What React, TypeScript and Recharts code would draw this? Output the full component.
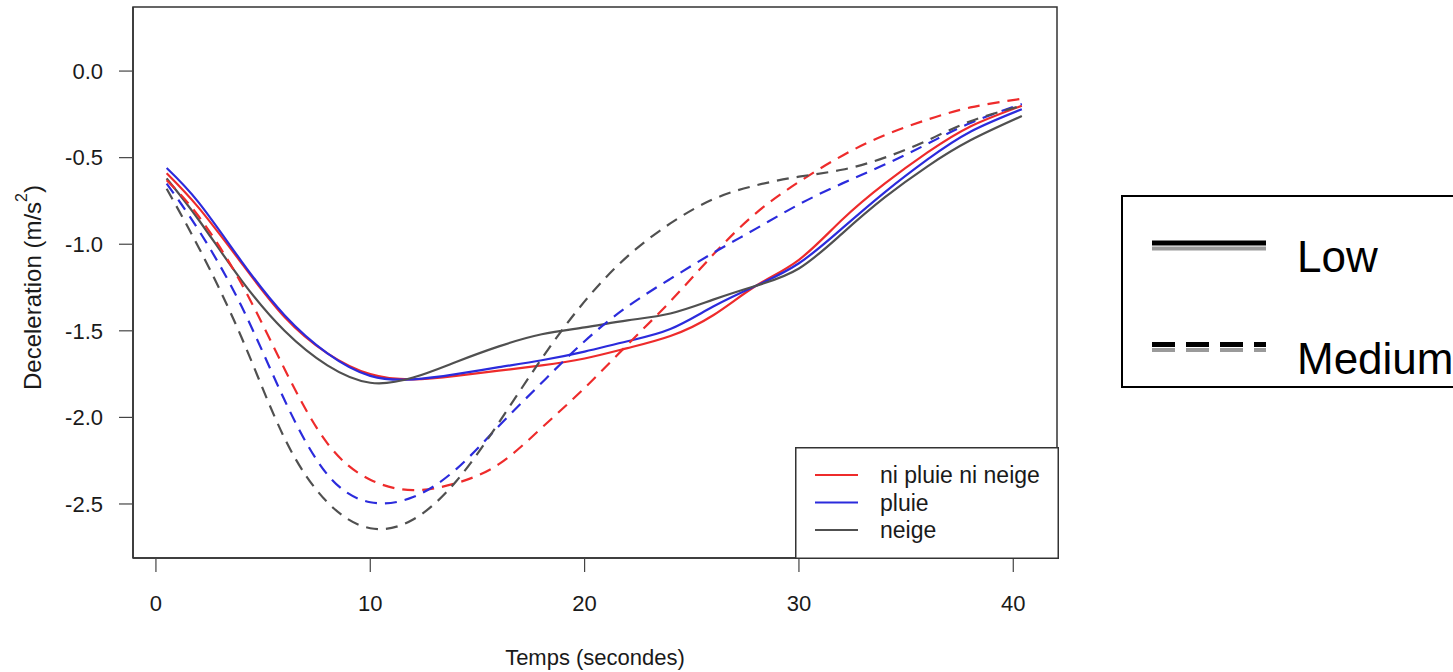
import React from 'react';
import { LineChart, Line, XAxis, YAxis, Legend, ReferenceArea } from 'recharts';

// time (s) and mean deceleration (m/s²) per weather / traffic level
const temps = [0.5, 2, 4, 6, 8, 10, 12, 14, 16, 18, 20, 22, 24, 26, 28, 30, 32, 34, 36, 38, 40.4];
const niLow = [-0.59, -0.79, -1.11, -1.42, -1.63, -1.75, -1.78, -1.76, -1.73, -1.70, -1.66, -1.60, -1.53, -1.41, -1.24, -1.09, -0.86, -0.65, -0.47, -0.32, -0.20];
const pluieLow = [-0.56, -0.76, -1.10, -1.41, -1.63, -1.76, -1.78, -1.75, -1.71, -1.67, -1.62, -1.56, -1.49, -1.36, -1.24, -1.11, -0.91, -0.70, -0.51, -0.35, -0.22];
const neigeLow = [-0.62, -0.86, -1.21, -1.50, -1.70, -1.80, -1.77, -1.68, -1.59, -1.52, -1.48, -1.44, -1.40, -1.32, -1.24, -1.14, -0.94, -0.73, -0.55, -0.40, -0.26];
const niMed = [-0.63, -0.84, -1.23, -1.72, -2.15, -2.36, -2.42, -2.38, -2.27, -2.06, -1.83, -1.58, -1.33, -1.06, -0.82, -0.64, -0.49, -0.37, -0.28, -0.21, -0.16];
const pluieMed = [-0.65, -0.92, -1.36, -1.90, -2.33, -2.49, -2.46, -2.30, -2.05, -1.80, -1.56, -1.36, -1.20, -1.05, -0.91, -0.77, -0.65, -0.54, -0.42, -0.30, -0.19];
const neigeMed = [-0.68, -1.02, -1.54, -2.12, -2.49, -2.64, -2.59, -2.37, -2.03, -1.66, -1.33, -1.07, -0.88, -0.74, -0.66, -0.61, -0.57, -0.50, -0.40, -0.29, -0.20];

const xTicks = [0, 10, 20, 30, 40];
const yTicks = [0, -0.5, -1, -1.5, -2, -2.5];

const RED = '#ee2b2b';
const BLUE = '#2b2bdc';
const GREY = '#505050';
const INK = '#1a1a1a';
const FONT = '"Liberation Sans", Arial, Helvetica, sans-serif';

const meteo = [
  { label: 'ni pluie ni neige', color: RED },
  { label: 'pluie', color: BLUE },
  { label: 'neige', color: GREY },
];

const niveaux = [
  { label: 'Low', dash: undefined as string | undefined },
  { label: 'Medium', dash: '23 11' },
];

const data = temps.map((t, i) => ({
  t,
  niLow: niLow[i],
  pluieLow: pluieLow[i],
  neigeLow: neigeLow[i],
  niMed: niMed[i],
  pluieMed: pluieMed[i],
  neigeMed: neigeMed[i],
}));

const series = [
  { key: 'niLow', color: RED, dashed: false },
  { key: 'pluieLow', color: BLUE, dashed: false },
  { key: 'neigeLow', color: GREY, dashed: false },
  { key: 'niMed', color: RED, dashed: true },
  { key: 'pluieMed', color: BLUE, dashed: true },
  { key: 'neigeMed', color: GREY, dashed: true },
];

const X_DOMAIN: [number, number] = [-1.07, 42.04];
const Y_DOMAIN: [number, number] = [-2.812, 0.37];

const XTitle = ({ viewBox }: any) => (
  <text
    x={viewBox.x + viewBox.width / 2}
    y={viewBox.y + 107}
    textAnchor="middle"
    fontSize={22}
    fontFamily={FONT}
    fill={INK}
  >
    Temps (secondes)
  </text>
);

const YTitle = ({ viewBox }: any) => {
  const cx = viewBox.x + 41;
  const cy = viewBox.y + viewBox.height / 2 + 5;
  return (
    <text
      x={cx}
      y={cy}
      transform={`rotate(-90 ${cx} ${cy})`}
      textAnchor="middle"
      fontSize={24}
      fontFamily={FONT}
      fill={INK}
    >
      Deceleration (m/s
      <tspan dy={-14} fontSize={16}>2</tspan>
      <tspan dy={14}>)</tspan>
    </text>
  );
};

const MeteoLegend = () => (
  <svg width={264} height={112} style={{ display: 'block' }}>
    <rect x={0.75} y={0.75} width={262.5} height={110.5} fill="#fff" stroke="#333" strokeWidth={1.5} />
    {meteo.map((m, i) => {
      const y = 28 + i * 27.5;
      return (
        <g key={m.label}>
          <line x1={20} x2={63} y1={y} y2={y} stroke={m.color} strokeWidth={2.2} />
          <text x={85} y={y} dominantBaseline="central" fontSize={23} fontFamily={FONT} fill={INK}>
            {m.label}
          </text>
        </g>
      );
    })}
  </svg>
);

const NiveauLegend = () => (
  <svg
    width={332}
    height={194}
    style={{ position: 'absolute', left: 1121, top: 195, display: 'block' }}
  >
    <rect x={1} y={1} width={400} height={191} fill="#fff" stroke="#000" strokeWidth={2} />
    {niveaux.map((n, i) => {
      const y = 48 + i * 101.5;
      return (
        <g key={n.label}>
          <line x1={31} x2={145} y1={y + 5.5} y2={y + 5.5} stroke="#9a9a9a" strokeWidth={4} strokeDasharray={n.dash} />
          <line x1={31} x2={145} y1={y} y2={y} stroke="#000" strokeWidth={5} strokeDasharray={n.dash} />
          <text x={176} y={y + 29} fontSize={44} fontFamily={FONT} fill="#000">
            {n.label}
          </text>
        </g>
      );
    })}
  </svg>
);

const axisStroke = { stroke: '#333', strokeWidth: 1.5 };
const tickStyle = { fill: INK, fontSize: 22, fontFamily: FONT };

export default function App() {
  return (
    <div
      style={{
        position: 'absolute',
        left: 0,
        top: 0,
        width: 1453,
        height: 672,
        overflow: 'hidden',
        background: '#fff',
      }}
    >
      <LineChart
        width={1100}
        height={672}
        data={data}
        margin={{ top: 7, right: 43, bottom: 0, left: 0 }}
        style={{ position: 'absolute', left: 0, top: 0 }}
      >
        <XAxis
          dataKey="t"
          type="number"
          domain={X_DOMAIN}
          allowDataOverflow
          ticks={xTicks}
          interval={0}
          height={114}
          tickSize={14}
          tickMargin={23}
          axisLine={axisStroke}
          tickLine={{ stroke: '#444', strokeWidth: 1.2 }}
          tick={tickStyle}
          label={XTitle}
        />
        <YAxis
          type="number"
          domain={Y_DOMAIN}
          allowDataOverflow
          ticks={yTicks}
          interval={0}
          width={133}
          tickSize={14}
          tickMargin={16}
          tickFormatter={(v: number) => v.toFixed(1)}
          axisLine={axisStroke}
          tickLine={{ stroke: '#444', strokeWidth: 1.2 }}
          tick={tickStyle}
          label={YTitle}
        />
        {/* frame around the plotting region */}
        <ReferenceArea
          x1={X_DOMAIN[0]}
          x2={X_DOMAIN[1]}
          y1={Y_DOMAIN[0]}
          y2={Y_DOMAIN[1]}
          fill="none"
          fillOpacity={0}
          stroke="#333"
          strokeWidth={1.5}
          ifOverflow="visible"
        />
        {series.map((s) => (
          <Line
            key={s.key}
            dataKey={s.key}
            type="natural"
            stroke={s.color}
            strokeWidth={2.2}
            strokeDasharray={s.dashed ? '12 8' : undefined}
            dot={false}
            activeDot={false}
            isAnimationActive={false}
          />
        ))}
        <Legend
          layout="vertical"
          align="center"
          verticalAlign="middle"
          content={MeteoLegend}
          wrapperStyle={{ left: 795, top: 447, width: 264, height: 112 }}
        />
      </LineChart>
      <NiveauLegend />
    </div>
  );
}
